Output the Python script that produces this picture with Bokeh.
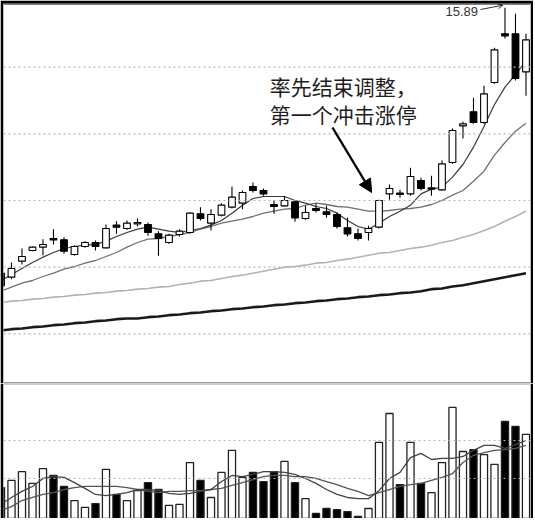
from bokeh.plotting import figure
from bokeh.layouts import column
from bokeh.models import Span, Arrow, NormalHead, OpenHead, Label, ColumnDataSource, Range1d
from bokeh.embed import file_html
from bokeh.resources import INLINE

# ---------------- data ----------------
OPEN = [11.91, 11.85, 12.09, 12.25, 12.30, 12.43, 12.41, 12.19, 12.31, 12.37,
        12.29, 12.63, 12.58, 12.65, 12.64, 12.50, 12.37, 12.49, 12.52, 12.80,
        12.66, 12.78, 12.90, 12.96, 13.21, 13.15, 12.94, 12.92, 12.98, 12.73,
        12.88, 12.83, 12.79, 12.59, 12.50, 12.52, 12.60, 13.10, 13.11, 13.10,
        13.30, 13.17, 13.16, 13.57, 14.12, 14.33, 14.17, 14.77, 15.50, 15.50,
        14.93]
CLOSE = [11.72, 11.98, 12.16, 12.30, 12.34, 12.41, 12.24, 12.31, 12.37, 12.31,
         12.58, 12.60, 12.66, 12.67, 12.52, 12.43, 12.48, 12.54, 12.81, 12.73,
         12.79, 12.93, 13.05, 13.12, 13.15, 13.10, 12.91, 13.00, 12.74, 12.82,
         12.85, 12.79, 12.61, 12.50, 12.43, 12.58, 13.00, 13.18, 13.09, 13.36,
         13.18, 13.19, 13.55, 14.05, 14.15, 14.17, 14.60, 15.26, 15.47, 14.83,
         15.41]
HIGH = [11.95, 12.07, 12.28, 12.31, 12.42, 12.57, 12.45, 12.33, 12.39, 12.40,
        12.64, 12.69, 12.70, 12.73, 12.67, 12.54, 12.50, 12.57, 12.82, 12.90,
        12.87, 12.96, 13.21, 13.15, 13.27, 13.18, 13.00, 13.07, 13.00, 12.92,
        12.95, 12.92, 12.82, 12.74, 12.58, 12.62, 13.01, 13.24, 13.16, 13.49,
        13.34, 13.37, 13.60, 14.08, 14.18, 14.54, 14.72, 15.29, 15.89, 15.80,
        15.50]
LOW = [11.68, 11.82, 12.04, 12.24, 12.18, 12.34, 12.20, 12.17, 12.29, 12.25,
       12.28, 12.50, 12.56, 12.61, 12.47, 12.17, 12.35, 12.46, 12.50, 12.70,
       12.55, 12.76, 12.88, 12.87, 13.12, 13.07, 12.80, 12.91, 12.68, 12.71,
       12.82, 12.74, 12.58, 12.46, 12.40, 12.40, 12.58, 13.01, 13.04, 13.07,
       13.15, 13.07, 13.15, 13.55, 13.93, 14.15, 14.15, 14.75, 15.43, 14.80,
       14.57]
MA5 = [11.80, 11.89, 11.98, 12.07, 12.15, 12.22, 12.28, 12.31, 12.33, 12.34,
       12.39, 12.46, 12.52, 12.57, 12.60, 12.57, 12.54, 12.52, 12.55, 12.58,
       12.63, 12.70, 12.81, 12.93, 13.03, 13.06, 13.06, 13.06, 13.00, 12.96,
       12.91, 12.88, 12.81, 12.70, 12.61, 12.57, 12.66, 12.76, 12.84, 12.93,
       13.10, 13.17, 13.20, 13.35, 13.54, 13.80, 14.11, 14.44, 14.70, 14.89,
       15.09]
MA10 = [11.64, 11.70, 11.76, 11.80, 11.86, 11.91, 11.97, 12.01, 12.06, 12.10,
        12.16, 12.22, 12.30, 12.37, 12.42, 12.43, 12.46, 12.49, 12.52, 12.57,
        12.61, 12.66, 12.69, 12.72, 12.76, 12.81, 12.84, 12.87, 12.88, 12.93,
        12.96, 12.94, 12.91, 12.90, 12.87, 12.84, 12.84, 12.85, 12.87, 12.88,
        12.90, 12.94, 13.00, 13.08, 13.15, 13.29, 13.44, 13.68, 13.87, 14.04,
        14.16]
MA30 = [11.47, 11.49, 11.50, 11.52, 11.53, 11.55, 11.56, 11.58, 11.59, 11.61,
        11.62, 11.64, 11.65, 11.67, 11.68, 11.70, 11.71, 11.74, 11.76, 11.79,
        11.80, 11.83, 11.86, 11.88, 11.91, 11.94, 11.97, 12.00, 12.01, 12.03,
        12.06, 12.07, 12.10, 12.12, 12.15, 12.18, 12.21, 12.22, 12.25, 12.28,
        12.30, 12.33, 12.37, 12.40, 12.45, 12.49, 12.55, 12.61, 12.69, 12.76,
        12.84]
MA60 = [11.05, 11.07, 11.08, 11.10, 11.11, 11.13, 11.14, 11.16, 11.17, 11.19,
        11.20, 11.22, 11.23, 11.23, 11.25, 11.26, 11.28, 11.29, 11.31, 11.32,
        11.34, 11.35, 11.37, 11.38, 11.40, 11.41, 11.43, 11.44, 11.46, 11.47,
        11.49, 11.50, 11.52, 11.53, 11.55, 11.56, 11.58, 11.59, 11.61, 11.62,
        11.64, 11.67, 11.68, 11.71, 11.73, 11.76, 11.79, 11.82, 11.85, 11.88,
        11.91]
VOLUME = [17.6, 19.5, 21.8, 18.7, 22.6, 20.8, 17.9, 14.2, 12.4, 13.4,
          22.4, 15.8, 14.2, 16.8, 18.9, 17.1, 12.9, 13.2, 24.2, 19.5,
          15.0, 21.6, 27.4, 20.3, 21.6, 19.2, 21.8, 24.5, 18.9, 14.7,
          10.8, 12.1, 11.8, 11.3, 10.0, 12.1, 29.5, 37.1, 18.4, 29.5,
          18.7, 16.3, 24.2, 38.7, 27.1, 27.6, 26.3, 23.7, 35.0, 33.7,
          31.6]
VOL_MA5 = [13.2, 15.0, 16.6, 17.9, 20.0, 20.5, 20.3, 18.9, 17.4, 15.8,
           15.5, 15.8, 16.3, 17.1, 17.1, 16.8, 16.1, 15.8, 16.1, 16.6,
           17.1, 19.2, 20.8, 20.5, 21.1, 21.8, 21.8, 21.6, 21.1, 20.0,
           18.7, 17.1, 15.8, 15.0, 14.7, 14.7, 16.8, 20.0, 21.6, 25.5,
           26.6, 25.0, 25.3, 25.3, 25.8, 27.4, 28.7, 28.7, 27.9, 28.9,
           30.0]
VOL_MA10 = [11.6, 12.6, 14.2, 15.0, 15.8, 16.3, 17.1, 17.6, 17.9, 17.9,
            17.9, 17.9, 17.6, 17.1, 16.6, 16.3, 16.6, 16.6, 16.8, 16.8,
            17.1, 17.4, 18.2, 18.9, 19.7, 20.5, 20.8, 20.8, 20.5, 20.5,
            20.0, 19.2, 18.4, 17.4, 16.6, 15.5, 16.3, 17.1, 17.9, 18.4,
            18.7, 19.5, 20.3, 21.3, 24.2, 26.1, 26.8, 27.4, 27.6, 27.9,
            28.7]
PRICE_GRID = [11, 12, 13, 14, 15]
VOL_GRID = [20, 30]
NOTE_LINES = ["率先结束调整，", "第一个冲击涨停"]
PEAK_INDEX = 48

# ---------------- build ----------------
idx = list(range(len(OPEN)))
up = [c >= o for o, c in zip(OPEN, CLOSE)]
src = ColumnDataSource(dict(
    idx=idx, open=OPEN, close=CLOSE, high=HIGH, low=LOW,
    top=[max(o, c) for o, c in zip(OPEN, CLOSE)],
    bottom=[min(o, c) for o, c in zip(OPEN, CLOSE)],
    fill=["white" if u else "black" for u in up],
    vol=VOLUME,
))

W = 533
X_RANGE = (0.24, 50.43)
P_RANGE = (10.255, 15.955)
V_RANGE = (9.47, 45.0)

p1 = figure(width=W, height=383, x_range=Range1d(*X_RANGE), y_range=Range1d(*P_RANGE),
            x_axis_location=None, y_axis_location=None, toolbar_location=None,
            output_backend="svg", title=None,
            min_border_left=3, min_border_right=3, min_border_top=3, min_border_bottom=0)
p1.border_fill_color = "black"
p1.background_fill_color = "white"
p1.outline_line_color = None
p1.xgrid.visible = False
p1.ygrid.visible = False

for g in PRICE_GRID:
    p1.add_layout(Span(location=g, dimension="width", line_color="#b5b5b5",
                       line_dash="2 3", line_width=1.2))

p1.line(idx, MA60, line_color="#1a1a1a", line_width=2.6)
p1.line(idx, MA30, line_color="#b3b3b3", line_width=1.6)
p1.line(idx, MA10, line_color="#707070", line_width=1.3)
p1.line(idx, MA5, line_color="#3a3a3a", line_width=1.2)

p1.segment(x0="idx", y0="low", x1="idx", y1="high", source=src,
           line_color="black", line_width=1.1)
p1.vbar(x="idx", top="top", bottom="bottom", width=0.64, source=src,
        fill_color="fill", line_color="black", line_width=1.1)

# annotation text and arrow
p1.add_layout(Label(x=25.6, y=14.95, text=NOTE_LINES[0], text_baseline="top",
                    text_font="Noto Sans CJK SC", text_font_size="21px",
                    text_color="#1e1e1e"))
p1.add_layout(Label(x=25.6, y=14.53, text=NOTE_LINES[1], text_baseline="top",
                    text_font="Noto Sans CJK SC", text_font_size="21px",
                    text_color="#1e1e1e"))
p1.add_layout(Arrow(end=NormalHead(size=13, fill_color="black", line_color="black"),
                    x_start=31.57, y_start=14.095, x_end=35.3, y_end=13.12,
                    line_color="black", line_width=2.4))

# peak price label
p1.add_layout(Label(x=42.33, y=15.835, text=f"{HIGH[PEAK_INDEX]:.2f}",
                    text_baseline="middle", text_font="Liberation Sans",
                    text_font_size="13px", text_color="#333333"))
p1.add_layout(Arrow(end=OpenHead(size=5, line_color="#333333", line_width=1),
                    x_start=45.67, y_start=15.865, x_end=47.8, y_end=HIGH[PEAK_INDEX] + 0.04,
                    line_color="#333333", line_width=1))

# top edge reinforcement and separator between panels
p1.add_layout(Span(location=P_RANGE[1], dimension="width", line_color="black", line_width=2))
p1.add_layout(Span(location=P_RANGE[0], dimension="width", line_color="#9a9a9a", line_width=3))

p2 = figure(width=W, height=135, x_range=p1.x_range, y_range=Range1d(*V_RANGE),
            x_axis_location=None, y_axis_location=None, toolbar_location=None,
            output_backend="svg", title=None,
            min_border_left=3, min_border_right=3, min_border_top=0, min_border_bottom=0)
p2.border_fill_color = "black"
p2.background_fill_color = "white"
p2.outline_line_color = None
p2.xgrid.visible = False
p2.ygrid.visible = False

for g in VOL_GRID:
    p2.add_layout(Span(location=g, dimension="width", line_color="#b5b5b5",
                       line_dash="2 3", line_width=1.2))

p2.vbar(x="idx", top="vol", bottom=0, width=0.68, source=src,
        fill_color="fill", line_color="#222222", line_width=1.3)
p2.line(idx, VOL_MA10, line_color="#555555", line_width=1.3)
p2.line(idx, VOL_MA5, line_color="#444444", line_width=1.3)

p2.add_layout(Span(location=V_RANGE[1], dimension="width", line_color="#9a9a9a", line_width=2))

layout = column(p1, p2, spacing=0)
open("out.html", "w").write(file_html(layout, INLINE))
